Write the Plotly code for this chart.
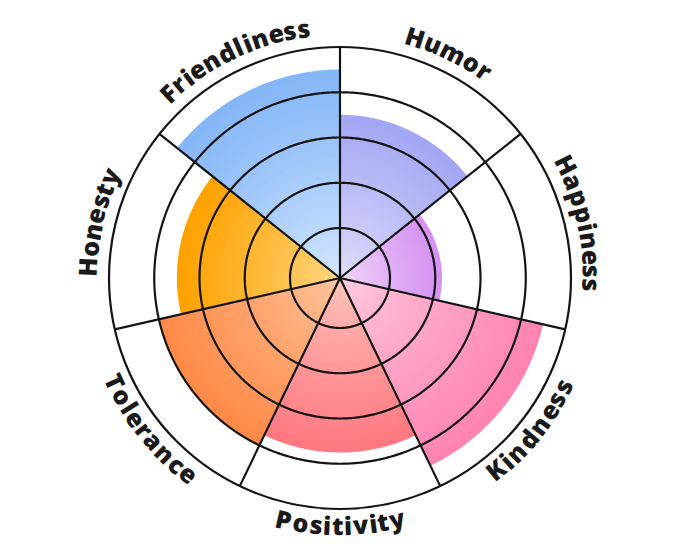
import numpy as np
import plotly.graph_objects as go

# ---------------- data ----------------
categories = ["Humor", "Happiness", "Kindness", "Positivity", "Tolerance", "Honesty", "Friendliness"]
values = [70, 43, 90, 75, 80, 70, 90]
grid_values = [20, 40, 60, 80]
inner_colors = ["#e4e2fb", "#f3def9", "#ffd0e0", "#ffcbc0", "#ffc9a2", "#ffdb8e", "#d9eaff"]
outer_colors = ["#a3a7f4", "#d590f2", "#ff83b3", "#ff7882", "#ff8a48", "#ffa200", "#85b6f7"]
inward_labels = ["Kindness", "Positivity", "Tolerance"]

# ---------------- geometry / style ----------------
W, H = 680, 557
CX, CY, R = 340, 278, 231
RMIN, RMAX = -2.1, 100
n = len(categories)
step = 360 / n
centers = [step * (i + 0.5) for i in range(n)]
bounds = [step * i for i in range(n)]
LINE = "#141414"
LW = 2.2


def hex2rgb(h):
    h = h.lstrip("#")
    return [int(h[i:i + 2], 16) for i in (0, 2, 4)]


def mix(c1, c2, t):
    a, b = hex2rgb(c1), hex2rgb(c2)
    return "rgb(%d,%d,%d)" % tuple(round(a[i] + (b[i] - a[i]) * t) for i in range(3))


fig = go.Figure()

# gradient bars: stacked concentric layers, outermost first
N = 45
for k in range(N, 0, -1):
    t = k / N
    fig.add_trace(go.Barpolar(
        r=[(v - RMIN) * t for v in values],
        base=RMIN,
        theta=centers,
        width=[step] * n,
        marker=dict(color=[mix(ci, co, t ** 0.8) for ci, co in zip(inner_colors, outer_colors)],
                    line=dict(width=0)),
        hoverinfo="skip", showlegend=False,
    ))

# grid circles above bars
circ = np.linspace(0, 360, 721)
for g in grid_values:
    fig.add_trace(go.Scatterpolar(r=[g] * len(circ), theta=circ, mode="lines",
                                  line=dict(color=LINE, width=LW), hoverinfo="skip", showlegend=False))
# spokes
for b in bounds:
    fig.add_trace(go.Scatterpolar(r=[RMIN, RMAX], theta=[b, b], mode="lines",
                                  line=dict(color=LINE, width=LW), hoverinfo="skip", showlegend=False))

# ---------------- curved labels ----------------
WID = {
    "H": 0.754, "u": 0.652, "m": 0.981, "o": 0.618, "r": 0.443, "a": 0.610, "p": 0.652,
    "i": 0.297, "n": 0.652, "e": 0.581, "s": 0.497, "K": 0.645, "d": 0.652, "P": 0.632,
    "t": 0.435, "v": 0.564, "y": 0.564, "T": 0.566, "l": 0.297, "c": 0.507, "F": 0.564,
}
FS = 25
SP = 1.4
R_OUT_C = 253
R_IN_C = 247
annotations = []
for cat, th in zip(categories, centers):
    ws = [WID.get(c, 0.6) * FS for c in cat]
    L = sum(ws) + SP * (len(cat) - 1)
    flip = cat in inward_labels
    Rc = R_IN_C if flip else R_OUT_C
    s = -L / 2
    for ch, w in zip(cat, ws):
        sc = s + w / 2
        dphi = np.degrees(sc / Rc)
        phi = th - dphi if flip else th + dphi
        x = CX + Rc * np.sin(np.radians(phi))
        y = CY - Rc * np.cos(np.radians(phi))
        ang = (phi - 180) if flip else phi
        ang = (ang + 180) % 360 - 180
        annotations.append(dict(
            x=x / W, y=1 - y / H, xref="paper", yref="paper", text=ch, showarrow=False,
            textangle=ang, xanchor="center", yanchor="middle",
            font=dict(family="Open Sans", size=FS, color="#1a1a1a", weight=800),
        ))
        s += w + SP

fig.update_layout(
    width=W, height=H,
    margin=dict(l=0, r=0, t=0, b=0),
    paper_bgcolor="white", plot_bgcolor="white",
    showlegend=False,
    annotations=annotations,
    polar=dict(
        domain=dict(x=[(CX - R) / W, (CX + R) / W], y=[1 - (CY + R) / H, 1 - (CY - R) / H]),
        bgcolor="white",
        bargap=0,
        radialaxis=dict(range=[RMIN, RMAX], visible=False, showgrid=False),
        angularaxis=dict(direction="clockwise", rotation=90, showgrid=False, showticklabels=False,
                         ticks="", showline=True, linecolor=LINE, linewidth=LW),
    ),
)

fig.write_html("out.html", config={"displayModeBar": False},
               post_script="document.body.style.margin='0px';")
